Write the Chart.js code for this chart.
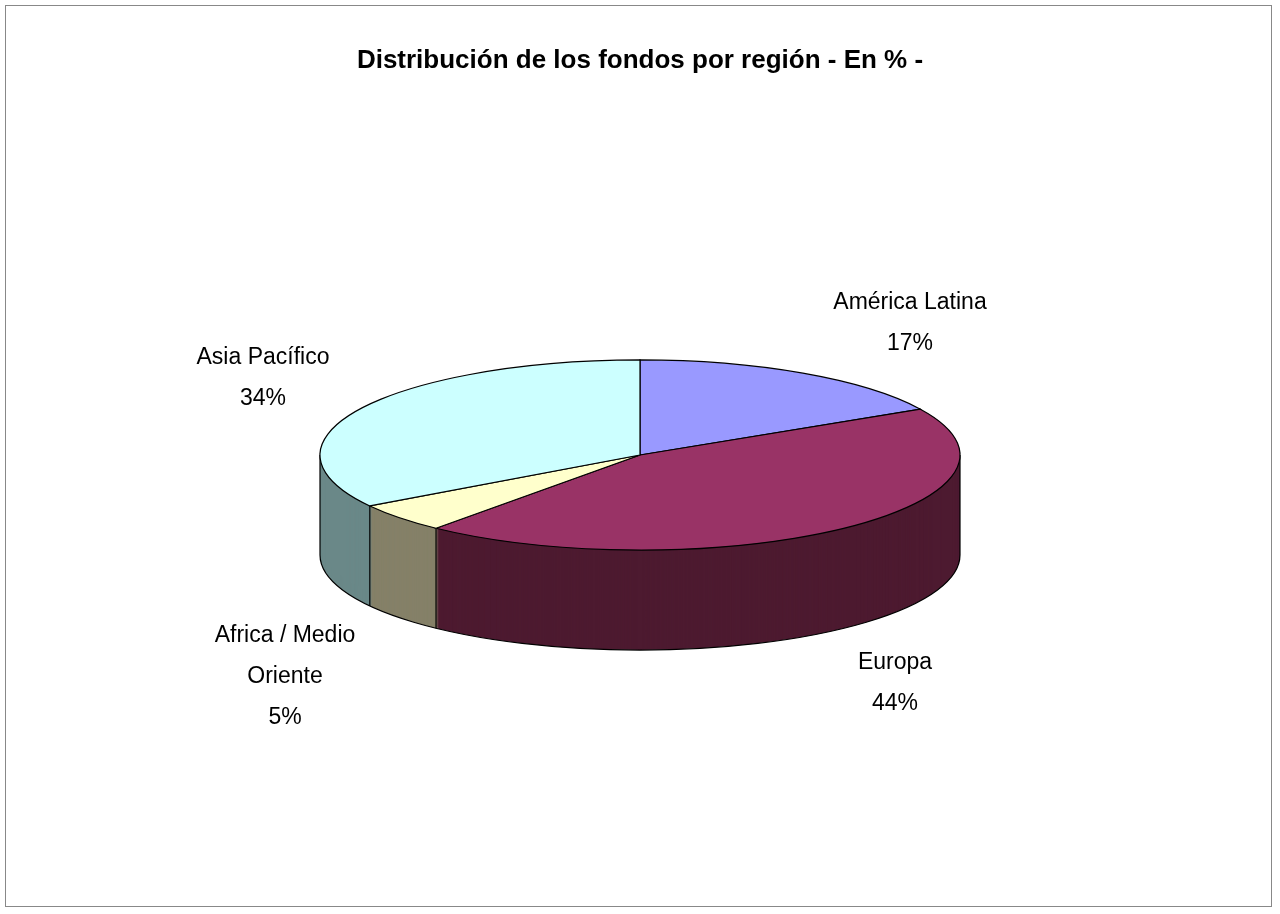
<!DOCTYPE html>
<html><head><meta charset="utf-8">
<script src="https://cdn.jsdelivr.net/npm/chart.js@4"></script>
<style>html,body{margin:0;background:#fff}#wrap{position:absolute;left:0;top:0;width:1280px;height:914px}
#frame{position:absolute;left:5px;top:5px;width:1267px;height:902px;border:1px solid #888;box-sizing:border-box;pointer-events:none}</style>
</head><body><div id="wrap"><canvas id="c"></canvas></div><div id="frame"></div>
<script>
const categories = ['América Latina', 'Europa', 'Africa / Medio Oriente', 'Asia Pacífico'];
const values = [17, 44, 5, 34];
const labelLines = [['América Latina','17%'], ['Europa','44%'], ['Africa / Medio','Oriente','5%'], ['Asia Pacífico','34%']];
const topColors = ['#9999FF', '#993366', '#FFFFCC', '#CCFFFF'];
const sideColors = ['#5c5c99', '#4d1a30', '#858068', '#6a8888'];

const K = 0.297, DEPTH = 100, CX = 640, CY = 455, R = 320;
const labelPos = [[910, 303], [895, 663], [285, 636], [263, 358]];

const pie3d = {
  id: 'pie3d',
  beforeDatasetsDraw(chart) {
    const ctx = chart.ctx;
    const arcs = chart.getDatasetMeta(0).data;
    const sector = (a) => {
      ctx.beginPath();
      ctx.moveTo(0, 0);
      ctx.arc(0, 0, R, a.startAngle, a.endAngle);
      ctx.closePath();
    };
    ctx.save();
    for (let d = DEPTH; d >= 1; d--) {
      ctx.save();
      ctx.translate(CX, CY + d);
      ctx.scale(1, K);
      arcs.forEach((a, i) => { sector(a); ctx.fillStyle = sideColors[i]; ctx.fill(); });
      ctx.restore();
    }
    ctx.save(); ctx.translate(CX, CY + DEPTH); ctx.scale(1, K);
    ctx.beginPath(); ctx.arc(0, 0, R, 0, Math.PI); ctx.restore();
    ctx.strokeStyle = '#000'; ctx.lineWidth = 1.2; ctx.stroke();
    ctx.beginPath();
    ctx.moveTo(CX - R, CY); ctx.lineTo(CX - R, CY + DEPTH);
    ctx.moveTo(CX + R, CY); ctx.lineTo(CX + R, CY + DEPTH);
    arcs.forEach(a => {
      const ang = a.startAngle;
      if (Math.sin(ang) > 0) {
        const x = CX + R * Math.cos(ang), y = CY + R * K * Math.sin(ang);
        ctx.moveTo(x, y); ctx.lineTo(x, y + DEPTH);
      }
    });
    ctx.stroke();
    arcs.forEach((a, i) => {
      ctx.save(); ctx.translate(CX, CY); ctx.scale(1, K);
      sector(a); ctx.restore();
      ctx.fillStyle = topColors[i]; ctx.fill();
      ctx.strokeStyle = '#000'; ctx.lineWidth = 1.2; ctx.stroke();
    });
    ctx.fillStyle = '#000';
    ctx.font = '23px "Liberation Sans", Arial, sans-serif';
    ctx.textAlign = 'center'; ctx.textBaseline = 'middle';
    labelLines.forEach((lines, i) => {
      lines.forEach((t, j) => ctx.fillText(t, labelPos[i][0], labelPos[i][1] + j * 41));
    });
    ctx.restore();
    return false;
  }
};

new Chart(document.getElementById('c'), {
  type: 'pie',
  data: { labels: categories, datasets: [{ data: values, backgroundColor: topColors }] },
  options: {
    responsive: true, maintainAspectRatio: false, animation: false,
    layout: { padding: { top: 45, bottom: 60 } },
    plugins: {
      legend: { display: false }, tooltip: { enabled: false },
      title: { display: true, text: 'Distribución de los fondos por región - En % -',
        color: '#000', font: { family: '"Liberation Sans", Arial, sans-serif', size: 26, weight: 'bold' },
        padding: { top: 0, bottom: 20 } }
    }
  },
  plugins: [pie3d]
});
</script></body></html>
